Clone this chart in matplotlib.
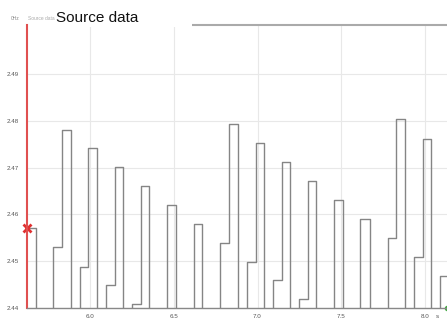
import numpy as np
import matplotlib
matplotlib.use("Agg")
import matplotlib.pyplot as plt
from matplotlib.patches import Rectangle

# step times (s) and the level the signal takes from each time on
times = [5.60, 5.675, 5.778, 5.835, 5.885, 5.940, 5.988, 6.044, 6.096, 6.149,
         6.199, 6.253, 6.303, 6.352, 6.410, 6.461, 6.512, 6.568, 6.619, 6.670,
         6.776, 6.832, 6.882, 6.936, 6.989, 7.041, 7.094, 7.148, 7.194, 7.246,
         7.301, 7.351, 7.408, 7.459, 7.509, 7.565, 7.614, 7.670, 7.777, 7.829,
         7.879, 7.936, 7.986, 8.038, 8.091, 8.20]
levels = [2.457, 2.425, 2.453, 2.478, 2.425, 2.4488, 2.4743, 2.425, 2.4449, 2.4701,
          2.425, 2.4409, 2.4661, 2.425, 2.437, 2.462, 2.425, 2.433, 2.458, 2.425,
          2.454, 2.4793, 2.425, 2.4499, 2.4753, 2.425, 2.446, 2.4713, 2.425, 2.4419,
          2.4671, 2.425, 2.438, 2.4631, 2.425, 2.434, 2.459, 2.425, 2.455, 2.4803,
          2.425, 2.451, 2.4762, 2.425, 2.4469, 2.4469]

xticks = [6.0, 6.5, 7.0, 7.5, 8.0]
yticks = [2.44, 2.45, 2.46, 2.47, 2.48, 2.49]
cursor_t, cursor_v = 5.624, 2.457

plt.rcParams['font.family'] = ['Liberation Sans', 'DejaVu Sans']

fig = plt.figure(figsize=(4.47, 3.22), dpi=100)
ax = fig.add_axes([27 / 447, 14 / 322, 420 / 447, 283 / 322])

ax.step(times, levels, where='post', color='#858585', lw=1.0)

ax.set_xlim(5.624, 8.131)
ax.set_ylim(2.44, 2.5005)
ax.set_xticks(xticks)
ax.set_xticklabels(['%.1f' % v for v in xticks])
ax.set_yticks(yticks)
ax.set_yticklabels(['%.2f' % v for v in yticks])
ax.tick_params(length=0, labelsize=4.5, colors='#555555', pad=4)
ax.tick_params(axis='y', pad=6)
ax.grid(True, color='#e8e8e8', lw=0.8)
ax.set_axisbelow(True)

ax.spines['right'].set_visible(False)
ax.spines['top'].set_visible(False)
ax.spines['left'].set_color('#e05050')
ax.spines['left'].set_linewidth(1.5)
ax.spines['bottom'].set_color('#888888')
ax.spines['bottom'].set_linewidth(1.0)
# top border only right of the title box
ax.axhline(2.5005, xmin=(192 - 27) / 420, xmax=1, color='#aaaaaa', lw=1.5, clip_on=False)

# cursor markers
ax.plot([cursor_t], [cursor_v], marker='x', color='#e03030', ms=6, mew=2, clip_on=False)
ax.plot([8.131], [2.44], marker='o', color='#44aa44', ms=3, clip_on=False)

# unit label
fig.text(437 / 447, 1 - 316 / 322, 's', fontsize=4.5, color='#555555', ha='center', va='center')

# header texts
fig.text(11 / 447, 1 - 19 / 322, '0Hz', fontsize=3.5, color='#888888', va='center')
fig.text(28 / 447, 1 - 19 / 322, 'Source data', fontsize=3.5, color='#aaaaaa', va='center')
fig.patches.append(Rectangle((55 / 447, 1 - 27 / 322), 137 / 447, 26 / 322,
                             transform=fig.transFigure, facecolor='white',
                             edgecolor='none', zorder=5))
fig.text(56 / 447, 1 - 22 / 322, 'Source data', fontsize=11, color='#111111',
         va='baseline', zorder=6)

fig.savefig('out.png', dpi=100)
